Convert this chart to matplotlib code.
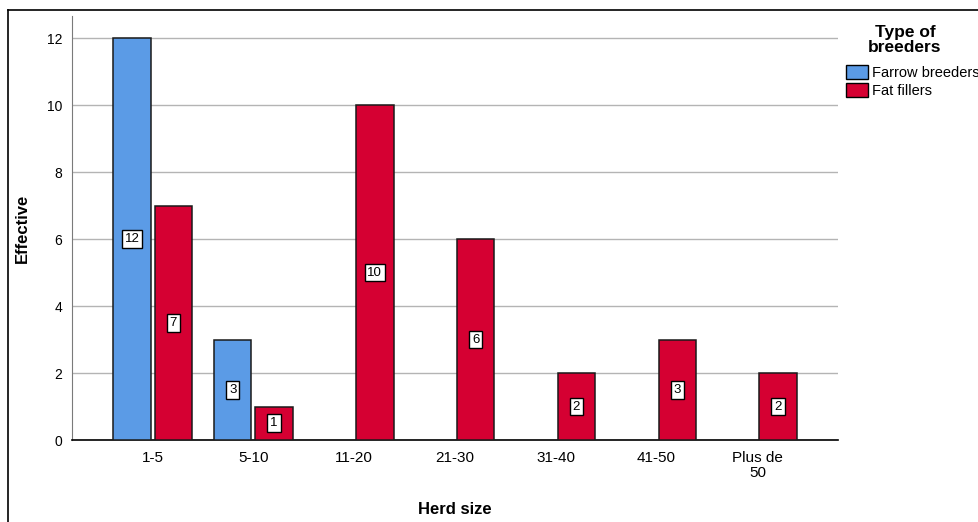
import matplotlib
matplotlib.use("Agg")
import matplotlib.pyplot as plt
from matplotlib.lines import Line2D
from matplotlib.patches import Patch
import numpy as np

plt.rcParams['font.family'] = ['Liberation Sans', 'DejaVu Sans']

# data
herd_sizes = ['1-5', '5-10', '11-20', '21-30', '31-40', '41-50', 'Plus de\n50']
farrow = [12, 3, 0, 0, 0, 0, 0]
fat = [7, 1, 10, 6, 2, 3, 2]
series_names = ['Farrow breeders', 'Fat fillers']

blue = '#5B9BE6'
red = '#D50032'

fig = plt.figure(figsize=(9.79, 5.22), dpi=100)
ax = fig.add_axes([72/979, 1-440/522, (838-72)/979, (440-16)/522])

x = np.arange(len(herd_sizes))
w = 0.37
off = 0.205

for vals, dx, col in [(farrow, -off, blue), (fat, off, red)]:
    for xi, v in zip(x, vals):
        if v == 0:
            continue
        ax.bar(xi + dx, v, width=w, color=col, edgecolor='#1a1a1a', linewidth=1.1, zorder=3)
        ax.text(xi + dx, v / 2, str(v), ha='center', va='center', fontsize=9.5, zorder=4,
                bbox=dict(boxstyle='square,pad=0.22', facecolor='white', edgecolor='black', linewidth=1))

ax.set_xlim(-0.8, 6.8)
ax.set_ylim(0, 12.66)
ax.set_yticks(range(0, 13, 2))
ax.set_xticks(x)
ax.set_xticklabels(herd_sizes, fontsize=11, linespacing=1.05)
ax.tick_params(axis='y', labelsize=10, length=0, pad=7)
ax.tick_params(axis='x', length=0, pad=8)
ax.yaxis.grid(True, color='#b4b4b4', linewidth=1, zorder=0)
ax.set_axisbelow(True)

for s in ['top', 'right']:
    ax.spines[s].set_visible(False)
ax.spines['left'].set_color('#7a7a7a')
ax.spines['bottom'].set_color('black')
ax.spines['bottom'].set_linewidth(1.2)

ax.set_xlabel('Herd size', fontsize=12, fontweight='bold', labelpad=16)
ax.set_ylabel('Effective', fontsize=12, fontweight='bold', labelpad=12,
              family=['Liberation Sans Narrow', 'Liberation Sans', 'DejaVu Sans'])

# legend outside on the right
fig.text(905/979, 1-40/522, 'Type of\nbreeders', ha='center', va='center',
         fontsize=12.5, fontweight='bold', linespacing=0.95)
handles = [Patch(facecolor=blue, edgecolor='black'), Patch(facecolor=red, edgecolor='black')]
fig.legend(handles, series_names, loc='upper left', bbox_to_anchor=(836/979, 1-55/522),
           frameon=False, fontsize=10.5, handlelength=1.5, handleheight=1.1,
           handletextpad=0.3, labelspacing=0.2, borderpad=0.2)

# outer frame lines (left and top)
fig.add_artist(Line2D([8/979, 8/979], [0, 1-10/522], color='black', linewidth=1.2))
fig.add_artist(Line2D([8/979, 1], [1-10/522, 1-10/522], color='black', linewidth=1.2))

fig.savefig('out.png', dpi=100)
